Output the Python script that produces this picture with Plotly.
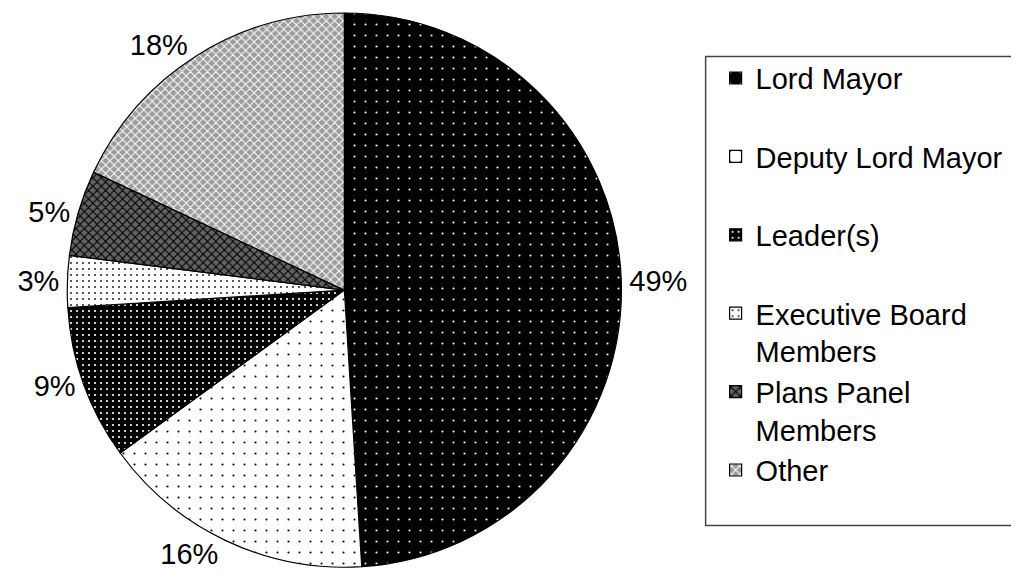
import plotly.graph_objects as go

labels = ["Lord Mayor", "Deputy Lord Mayor", "Leader(s)",
          "Executive Board Members", "Plans Panel Members", "Other"]
legend_text = ["Lord Mayor<br>&nbsp;", "Deputy Lord Mayor<br>&nbsp;", "Leader(s)<br>&nbsp;",
               "Executive Board<br>Members", "Plans Panel<br>Members", "Other"]
values = [49, 16, 9, 3, 5, 18]

bg = ["black", "white", "black", "white", "#626262", "#9c9c9c"]
fg = ["white", "black", "white", "#333333", "black", "white"]
shapes_ = [".", ".", ".", ".", "x", "x"]
sizes = [11, 11, 6, 6, 6, 6]
solid = [0.03, 0.03, 0.1, 0.1, 0.35, 0.3]

W, H = 1019, 585
OFF = 8  # page body offset
# pie on page: centre (343, 287.5), radius 279.5
cx, cy, r = 343 - OFF, 287.5 - OFF, 279.5

def clamp(v):
    return max(0.0, min(1.0, v))

fig = go.Figure(go.Pie(
    labels=legend_text,
    values=values,
    sort=False,
    direction="clockwise",
    rotation=0,
    textposition="outside",
    texttemplate="%{percent:.0%}",
    textfont=dict(family="Liberation Sans, Arial", size=29, color="black"),
    marker=dict(colors=bg,
                line=dict(color="black", width=1.2),
                pattern=dict(shape=shapes_, fgcolor=fg, bgcolor=bg,
                             size=sizes, solidity=solid, fillmode="replace")),
    domain=dict(x=[clamp((cx - r) / W), clamp((cx + r) / W)],
                y=[clamp(1 - (cy + r) / H), clamp(1 - (cy - r) / H)]),
    hoverinfo="label+percent",
))

fig.update_layout(
    width=W, height=H,
    margin=dict(l=0, r=0, t=0, b=0),
    paper_bgcolor="white",
    plot_bgcolor="white",
    showlegend=True,
    legend=dict(x=(715 - OFF) / W, y=1 - (48 - OFF) / H, xanchor="left", yanchor="top",
                valign="top", borderwidth=0, bgcolor="rgba(0,0,0,0)",
                font=dict(family="Liberation Sans, Arial", size=29, color="black")),
    shapes=[dict(type="rect", xref="paper", yref="paper",
                 x0=(705 - OFF) / W, x1=1.05, y0=1 - (525 - OFF) / H, y1=1 - (52 - OFF) / H,
                 line=dict(color="#444444", width=1.5), fillcolor="rgba(0,0,0,0)",
                 layer="below")],
)

fig.write_html("out.html")
